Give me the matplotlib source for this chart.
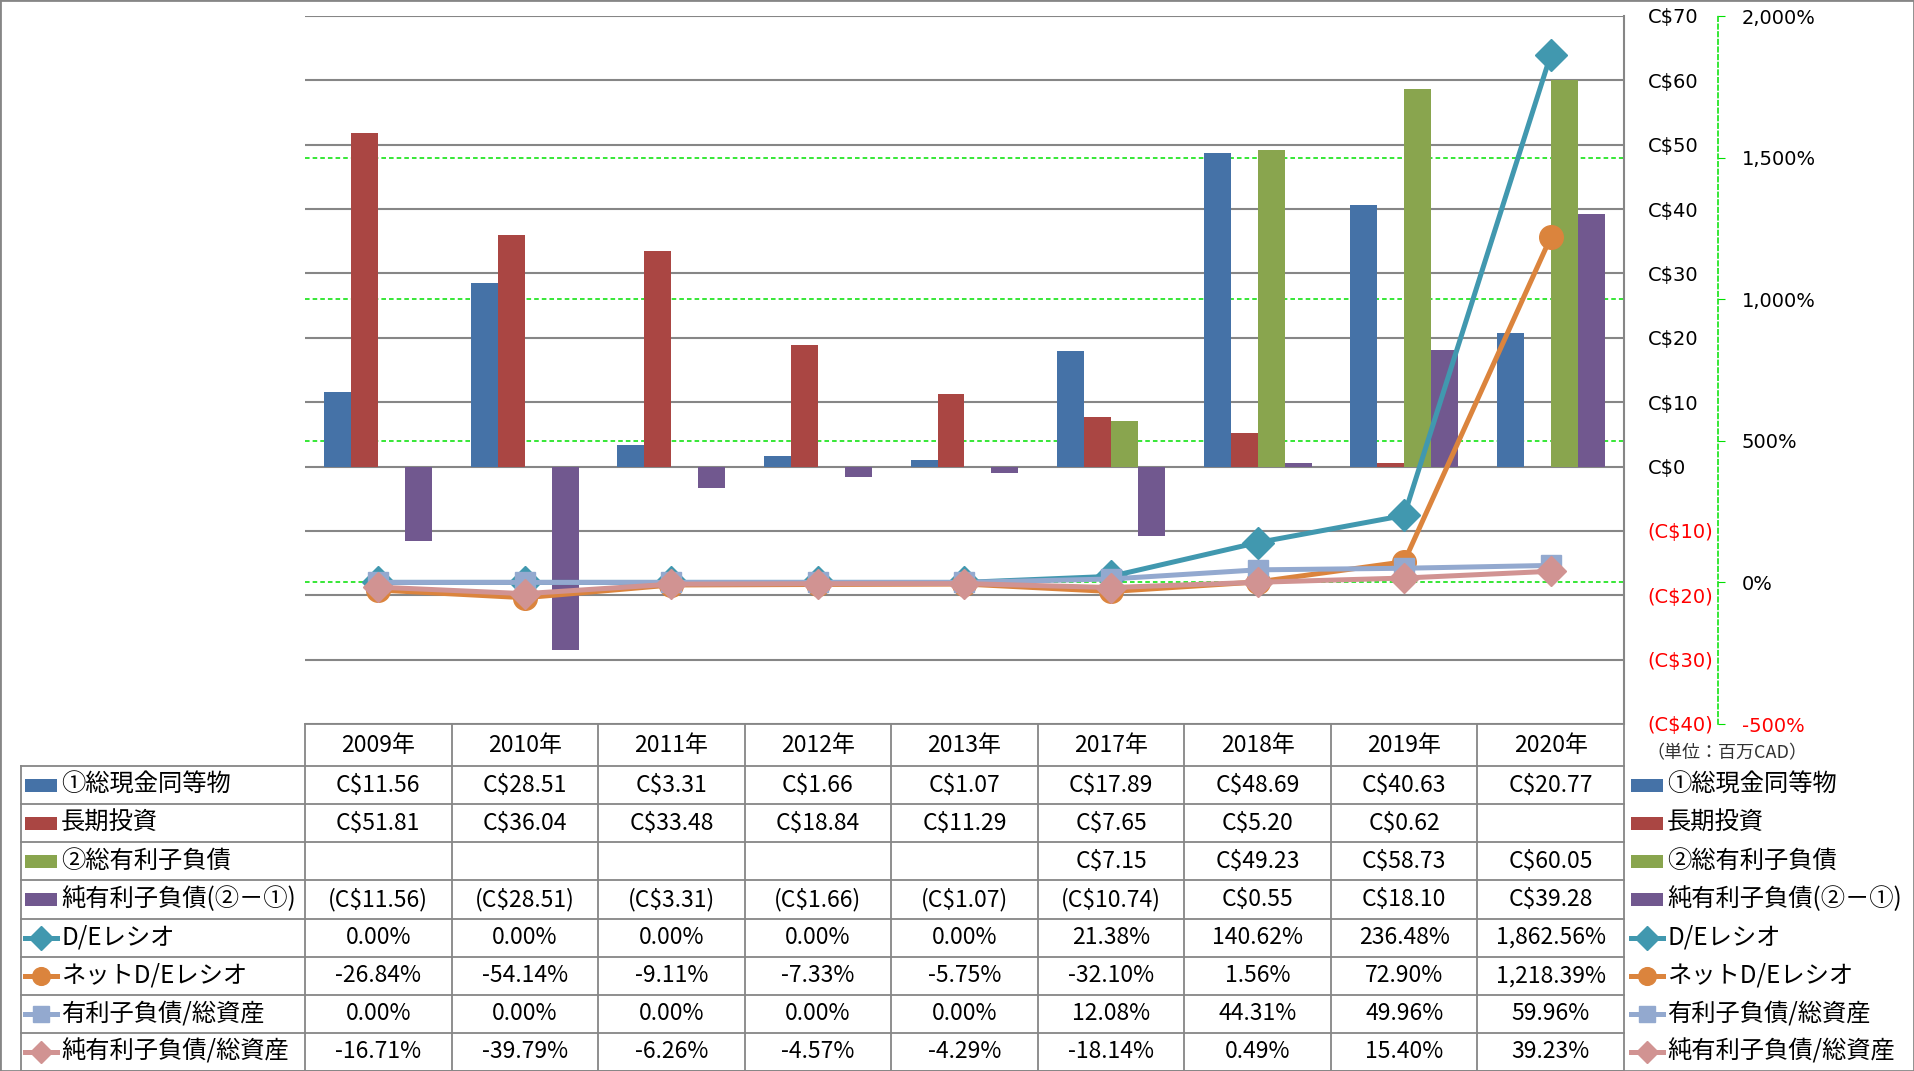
import numpy as np
import matplotlib.pyplot as plt
from matplotlib.patches import Rectangle
from matplotlib.ticker import FuncFormatter

# data (百万CAD / %)
years = ['2009年', '2010年', '2011年', '2012年', '2013年', '2017年', '2018年', '2019年', '2020年']
cash = [11.56, 28.51, 3.31, 1.66, 1.07, 17.89, 48.69, 40.63, 20.77]
lt_invest = [51.81, 36.04, 33.48, 18.84, 11.29, 7.65, 5.20, 0.62, None]
total_debt = [None, None, None, None, None, 7.15, 49.23, 58.73, 60.05]
net_debt = [-11.56, -28.51, -3.31, -1.66, -1.07, -10.74, 0.55, 18.10, 39.28]
de_ratio = [0.0, 0.0, 0.0, 0.0, 0.0, 21.38, 140.62, 236.48, 1862.56]
net_de_ratio = [-26.84, -54.14, -9.11, -7.33, -5.75, -32.10, 1.56, 72.90, 1218.39]
debt_assets = [0.0, 0.0, 0.0, 0.0, 0.0, 12.08, 44.31, 49.96, 59.96]
net_debt_assets = [-16.71, -39.79, -6.26, -4.57, -4.29, -18.14, 0.49, 15.40, 39.23]

bar_names = ['①総現金同等物', '長期投資', '②総有利子負債', '純有利子負債(②－①)']
line_names = ['D/Eレシオ', 'ネットD/Eレシオ', '有利子負債/総資産', '純有利子負債/総資産']

bar_colors = ['#4572A7', '#AA4643', '#89A54E', '#71588F']
line_colors = ['#4198AF', '#DB843D', '#93A9CF', '#D19392']
line_markers = ['D', 'o', 's', 'D']
line_ms = [16, 17, 15, 15]

JP = ['Noto Sans CJK JP', 'DejaVu Sans']
GRID = '#868686'

W, H = 1914, 1071
fig = plt.figure(figsize=(W / 100, H / 100), dpi=100)

# plot area in pixels
L, R, T, B = 305, 1624, 16, 724
rect = [L / W, 1 - B / H, (R - L) / W, (B - T) / H]
n = len(years)
x = np.arange(n)

# green gridlines for % axis (behind everything)
axg = fig.add_axes(rect)
axg.set_xlim(-0.5, n - 0.5)
axg.set_ylim(-500, 2000)
axg.set_yticks([0, 500, 1000, 1500])
axg.set_xticks([])
axg.tick_params(left=False, labelleft=False)
axg.grid(axis='y', color='#00E000', ls=(0, (3, 2)), lw=1.1)
for s in axg.spines.values():
    s.set_visible(False)

# bars on C$ axis
axb = fig.add_axes(rect)
axb.patch.set_visible(False)
axb.set_xlim(-0.5, n - 0.5)
axb.set_ylim(-40, 70)
axb.set_yticks(range(-40, 71, 10))
axb.set_xticks([])
axb.set_axisbelow(True)
axb.grid(axis='y', color=GRID, lw=1.5)
for k, s in axb.spines.items():
    s.set_visible(k == 'right')
axb.spines['right'].set_color(GRID)
axb.spines['right'].set_linewidth(1.5)
axb.yaxis.tick_right()
axb.tick_params(axis='y', length=0, pad=17, labelsize=14)
axb.yaxis.set_major_formatter(FuncFormatter(
    lambda v, p: f'C${v:.0f}' if v >= 0 else f'(C${-v:.0f})'))
for lab, v in zip(axb.get_yticklabels(), range(-40, 71, 10)):
    lab.set_color('red' if v < 0 else 'black')

bw = 0.184
bar_series = [cash, lt_invest, total_debt, net_debt]
for i, (vals, c) in enumerate(zip(bar_series, bar_colors)):
    v = np.array([np.nan if a is None else a for a in vals], dtype=float)
    axb.bar(x + (i - 1.5) * bw, v, width=bw, color=c, lw=0)

# lines on % axis
axl = fig.add_axes(rect)
axl.patch.set_visible(False)
axl.set_xlim(-0.5, n - 0.5)
axl.set_ylim(-500, 2000)
axl.set_xticks([])
for k, s in axl.spines.items():
    s.set_visible(k == 'right')
axl.spines['right'].set_position(('axes', (1718 - L) / (R - L)))
axl.spines['right'].set_color('#00E000')
axl.spines['right'].set_linestyle((0, (3, 2)))
axl.spines['right'].set_linewidth(1.1)
axl.yaxis.tick_right()
axl.set_yticks(range(-500, 2001, 500))
axl.tick_params(axis='y', length=5, color='#00E000', pad=12, labelsize=14)
axl.yaxis.set_major_formatter(FuncFormatter(lambda v, p: f'{v:,.0f}%'))
for lab, v in zip(axl.get_yticklabels(), range(-500, 2001, 500)):
    lab.set_color('red' if v < 0 else 'black')

line_series = [de_ratio, net_de_ratio, debt_assets, net_debt_assets]
for vals, c, m, ms in zip(line_series, line_colors, line_markers, line_ms):
    axl.plot(x, vals, color=c, lw=3.6, marker=m, ms=ms, mec=c, mfc=c)

# data table (pixel coordinates)
axt = fig.add_axes([0, 0, 1, 1])
axt.set_xlim(0, W)
axt.set_ylim(H, 0)
axt.axis('off')
axt.patch.set_visible(False)

TL = 21
cw = (R - L) / n
row_top = 766
rh = (H - row_top) / 8
row_y = [row_top + rh * (j + 0.5) for j in range(8)]

# grid of table
axt.plot([L, R], [B, B], color=GRID, lw=1.3)
for j in range(9):
    yy = row_top + rh * j
    axt.plot([TL, R], [yy, yy], color=GRID, lw=1.3)
axt.plot([TL, TL], [row_top, H], color=GRID, lw=1.3)
for k in range(n + 1):
    xx = L + cw * k
    axt.plot([xx, xx], [B, H], color=GRID, lw=1.3)

def money(v):
    if v is None:
        return ''
    s = f'C${abs(v):,.2f}'
    return f'({s})' if v < 0 else s

def pct(v):
    return f'{v:,.2f}%'

for i, yr in enumerate(years):
    axt.text(L + cw * (i + 0.5), (B + row_top) / 2, yr, ha='center', va='center',
             fontsize=16.5, family=JP)

rows = [(bar_series[j], money) for j in range(4)] + [(line_series[j], pct) for j in range(4)]
for j, (vals, fmt) in enumerate(rows):
    for i, v in enumerate(vals):
        axt.text(L + cw * (i + 0.5), row_y[j], fmt(v), ha='center', va='center',
                 fontsize=16.5, family=JP)

names = bar_names + line_names

def key(x0, yc, j):
    if j < 4:
        axt.add_patch(Rectangle((x0, yc - 6.5), 32, 13, color=bar_colors[j], lw=0))
    else:
        k = j - 4
        axt.plot([x0, x0 + 32], [yc, yc], color=line_colors[k], lw=3.6)
        axt.plot([x0 + 16], [yc], marker=line_markers[k], ms=line_ms[k] * 0.75,
                 color=line_colors[k])

for j, name in enumerate(names):
    key(25, row_y[j], j)
    axt.text(61, row_y[j], name, ha='left', va='center', fontsize=17.5, family=JP)
    key(1631, row_y[j], j)
    axt.text(1667, row_y[j], name, ha='left', va='center', fontsize=17.5, family=JP)

axt.text(1646, 753, '（単位：百万CAD）', ha='left', va='center', fontsize=13,
         family=JP, color='#333333')

# outer frame
fig.patches.append(Rectangle((0, 0), 1, 1, transform=fig.transFigure, fill=False,
                             ec=GRID, lw=2))

fig.savefig('out.png', dpi=100)
